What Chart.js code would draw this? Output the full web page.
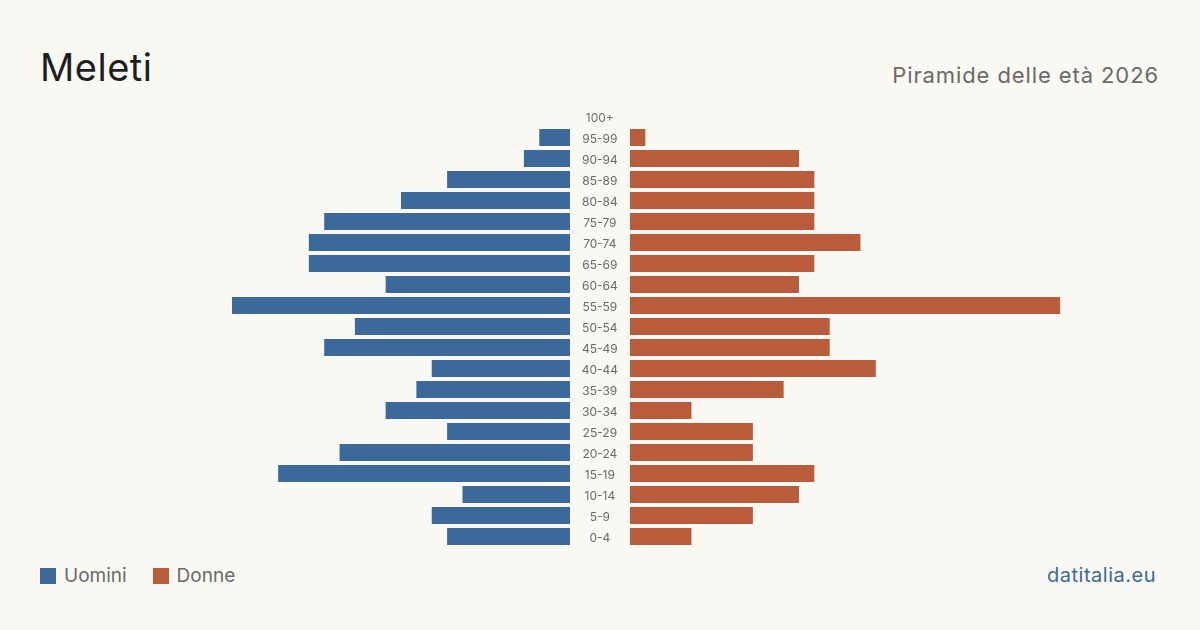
<!DOCTYPE html>
<html lang="it">
<head>
<meta charset="utf-8">
<title>Meleti - Piramide delle età 2026</title>
<script src="https://cdn.jsdelivr.net/npm/chart.js@4/dist/chart.umd.min.js"></script>
<style>
    html, body { margin: 0; padding: 0; }
    body {
        width: 1200px; height: 630px; overflow: hidden;
        background: #f9f8f3;
        font-family: Inter, "Noto Sans", sans-serif;
        position: relative;
    }
    .title {
        position: absolute; left: 40px; top: 44px;
        font-size: 38px; color: #1e1e1e; font-weight: 400; letter-spacing: 0.5px;
    }
    .subtitle {
        position: absolute; right: 41px; top: 62px;
        font-size: 22px; color: #6a6a6a; letter-spacing: 0.9px;
    }
    .chart { position: absolute; top: 106px; height: 441px; }
    #left { left: 40px; width: 530px; }
    #right { left: 570px; width: 590px; }
    .legend {
        position: absolute; left: 40px; top: 564px;
        font-size: 19px; color: #6a6a6a; display: flex; align-items: center;
    }
    .legend span.box { display: inline-block; width: 16px; height: 16px; margin-right: 8px; }
    .legend .item { display: flex; align-items: center; margin-right: 26px; }
    .source {
        position: absolute; right: 44px; top: 563px;
        font-size: 20px; color: #3b6a9a; letter-spacing: 0.5px;
    }
</style>
</head>
<body>
<div class="title">Meleti</div>
<div class="subtitle">Piramide delle età 2026</div>
<div class="chart" id="left"><canvas id="menChart"></canvas></div>
<div class="chart" id="right"><canvas id="womenChart"></canvas></div>
<div class="legend">
    <div class="item"><span class="box" style="background:#3b6a9a"></span>Uomini</div>
    <div class="item"><span class="box" style="background:#b85c3b"></span>Donne</div>
</div>
<div class="source">datitalia.eu</div>

<script>
const ageGroups = ['100+', '95-99', '90-94', '85-89', '80-84', '75-79', '70-74', '65-69',
    '60-64', '55-59', '50-54', '45-49', '40-44', '35-39', '30-34', '25-29', '20-24',
    '15-19', '10-14', '5-9', '0-4'];
const men   = [0, 2, 3, 8, 11, 16, 17, 17, 12, 22, 14, 16, 9, 10, 12, 8, 15, 19, 7, 9, 8];
const women = [0, 1, 11, 12, 12, 12, 15, 12, 11, 28, 13, 13, 16, 10, 4, 8, 8, 12, 11, 8, 4];
const axisMax = 34.5;

const MEN_COLOR = '#3b6a9a';
const WOMEN_COLOR = '#b85c3b';

/* Left side: men, bars grow to the left */

new Chart(document.getElementById('menChart'), {
    type: 'bar',
    data: {
        labels: ageGroups,
        datasets: [{
            label: 'Uomini',
            data: men,
            backgroundColor: MEN_COLOR,
            categoryPercentage: 1,
            barPercentage: 0.81,
        }],
    },
    options: {
        indexAxis: 'y',
        responsive: true,
        maintainAspectRatio: false,
        animation: false,
        layout: { padding: 0 },
        plugins: { legend: { display: false }, tooltip: { enabled: false } },
        scales: {
            x: { display: false, reverse: true, min: 0, max: axisMax },
            y: { display: false },
        },
    },
});

/* Right side: women, with the age labels in the centre column */

new Chart(document.getElementById('womenChart'), {
    type: 'bar',
    data: {
        labels: ageGroups,
        datasets: [{
            label: 'Donne',
            data: women,
            backgroundColor: WOMEN_COLOR,
            categoryPercentage: 1,
            barPercentage: 0.81,
        }],
    },
    options: {
        indexAxis: 'y',
        responsive: true,
        maintainAspectRatio: false,
        animation: false,
        layout: { padding: 0 },
        plugins: { legend: { display: false }, tooltip: { enabled: false } },
        scales: {
            x: { display: false, min: 0, max: axisMax },
            y: {
                grid: { display: false, drawTicks: false, tickLength: 0 },
                border: { display: false },
                afterFit: scale => {
                    scale.width = 60;
                    scale.paddingTop = 0;
                    scale.paddingBottom = 0;
                },
                ticks: {
                    crossAlign: 'center',
                    padding: 12,
                    labelOffset: 1.5,
                    color: '#6a6a6a',
                    font: { family: 'Inter, "Noto Sans", sans-serif', size: 12 },
                },
            },
        },
    },
});
</script>
</body>
</html>
